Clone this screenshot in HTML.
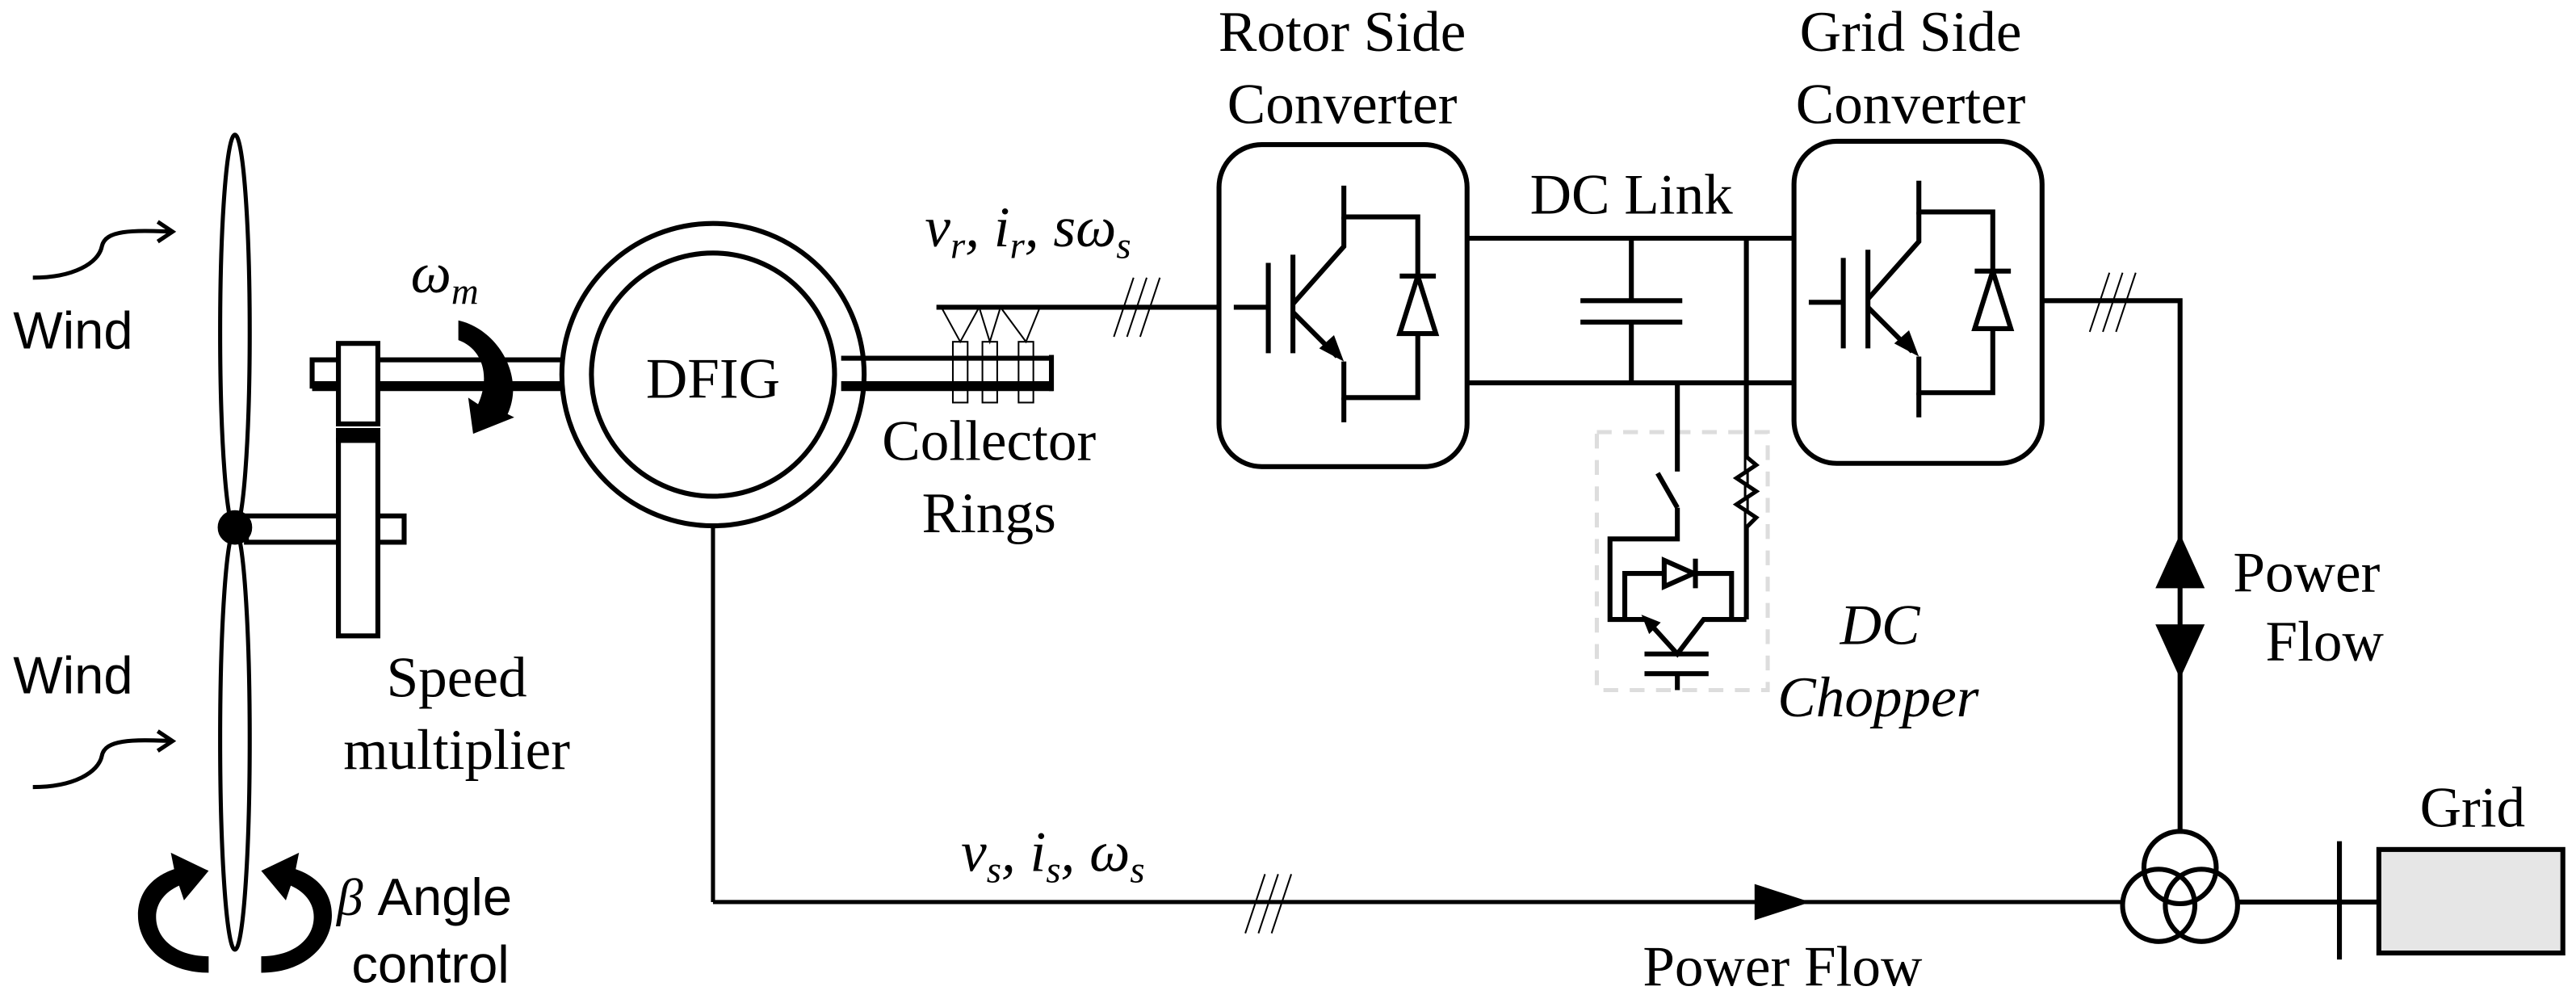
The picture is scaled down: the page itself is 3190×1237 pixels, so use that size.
<!DOCTYPE html>
<html><head><meta charset="utf-8"><style>
html,body{margin:0;padding:0;background:#fff;}
svg{display:block;}
.s{font-family:"Liberation Serif",serif;font-size:35px;fill:#000;}
.a{font-family:"Liberation Sans",sans-serif;font-size:32px;fill:#000;}
.i{font-family:"Liberation Serif",serif;font-style:italic;font-size:35px;fill:#000;}
</style></head><body>
<svg width="3190" height="1237" viewBox="0 0 1568 608" preserveAspectRatio="none" xmlns="http://www.w3.org/2000/svg">
<g fill="none" stroke="#000" stroke-width="3">
<ellipse cx="143" cy="202" rx="9" ry="120" stroke-width="2.5"/>
<ellipse cx="143" cy="450" rx="9" ry="128" stroke-width="2.5"/>
<rect x="150" y="314" width="96" height="16" fill="#fff"/>
<circle cx="143" cy="321" r="9" fill="#000"/>
<rect x="206" y="268" width="24" height="119" fill="#fff"/>
<rect x="206" y="262" width="24" height="6" fill="#000"/>
<rect x="190" y="219" width="168" height="16" fill="#fff"/>
<line x1="190" y1="235" x2="358" y2="235" stroke-width="6"/>
<rect x="206" y="209" width="24" height="49" fill="#fff"/>
<circle cx="434" cy="228" r="92" fill="#fff"/>
<circle cx="434" cy="228" r="74"/>
<line x1="512" y1="218" x2="641" y2="218"/>
<line x1="512" y1="235" x2="641" y2="235" stroke-width="6"/>
<line x1="640" y1="216" x2="640" y2="238"/>
<g stroke-width="1"><rect x="580" y="208" width="9" height="37"/><rect x="598" y="208" width="9" height="37"/><rect x="620" y="208" width="9" height="37"/>
<polyline points="573,187 584.5,208 596,187 602.5,208 609,187 624.5,208 633,187"/>
<line x1="678" y1="205" x2="690" y2="169"/><line x1="686" y1="205" x2="698" y2="169"/><line x1="694" y1="205" x2="706" y2="169"/>
</g>
<line x1="570" y1="187" x2="742" y2="187"/>
<line x1="434" y1="320" x2="434" y2="549" stroke-width="2.5"/>
<line x1="434" y1="549" x2="1293" y2="549" stroke-width="2.5"/>
<g stroke-width="1"><line x1="758" y1="568" x2="770" y2="532"/><line x1="766" y1="568" x2="778" y2="532"/><line x1="774" y1="568" x2="786" y2="532"/>
<line x1="1272" y1="202" x2="1284" y2="166"/><line x1="1280" y1="202" x2="1292" y2="166"/><line x1="1288" y1="202" x2="1300" y2="166"/></g>
<rect x="742" y="88" width="151" height="196" rx="26"/>
<rect x="1092" y="86" width="151" height="196" rx="26"/>
<line x1="893" y1="145" x2="1092" y2="145"/>
<line x1="893" y1="233" x2="1092" y2="233"/>
<line x1="993" y1="145" x2="993" y2="183"/><line x1="993" y1="196" x2="993" y2="233"/>
<line x1="962" y1="183" x2="1024" y2="183"/><line x1="962" y1="196" x2="1024" y2="196"/>
<line x1="1063" y1="145" x2="1063" y2="377"/>
<rect x="972" y="263" width="104" height="157" stroke="#ddd" stroke-width="2.5" stroke-dasharray="9,7"/>
<line x1="1021" y1="233" x2="1021" y2="287"/>
<line x1="1009" y1="288" x2="1021" y2="309"/>
<polyline points="1021,309 1021,328 980,328 980,377 1002,377"/>
<polyline points="989,377 989,349 1054,349 1054,377"/>
<polyline points="1063,377 1037,377 1021,398 1002,377"/>
<line x1="1001" y1="398" x2="1040" y2="398"/><line x1="1001" y1="410" x2="1040" y2="410"/><line x1="1021" y1="410" x2="1021" y2="420"/>
<polygon points="1013,341 1013,357 1031,349" fill="#fff"/><line x1="1032" y1="340" x2="1032" y2="358"/>
<polygon points="1000,375 1010,379 1004,385" fill="#000" stroke-width="1"/>
<polyline points="1063,278 1069,283 1057,291 1069,299 1057,307 1069,315 1063,321" fill="#fff" stroke-width="2.5"/>
<polyline points="1243,183 1327,183 1327,507"/>
<line x1="1362" y1="549" x2="1448" y2="549"/>
<line x1="1424" y1="512" x2="1424" y2="584"/>
<rect x="1448" y="517" width="112" height="63" fill="#e6e6e6"/>
<circle cx="1327" cy="528" r="22"/><circle cx="1314" cy="551" r="22"/><circle cx="1340" cy="551" r="22"/>
</g>
<g fill="none" stroke="#000" stroke-width="3">
<g id="ig">
<line x1="751" y1="187" x2="772" y2="187"/>
<line x1="772" y1="160" x2="772" y2="215"/>
<line x1="787" y1="155" x2="787" y2="215"/>
<polyline points="818,113 818,132 863,132 863,168"/>
<polyline points="787,185 818,150 818,132"/>
<line x1="787" y1="190" x2="814" y2="217"/>
<polyline points="818,220 818,242 863,242 863,203"/>
<line x1="818" y1="242" x2="818" y2="257"/>
<polygon points="852,203 874,203 863,168" fill="#fff"/>
<line x1="852" y1="168" x2="874" y2="168"/>
</g>
<use href="#ig" transform="translate(350,-3)"/>
</g>
<polygon points="818,220 803,212 812,204" fill="#000"/>
<polygon points="1168,217 1153,209 1162,201" fill="#000"/>
<polygon points="1068,538 1068,560 1102,549" fill="#000"/>
<polygon points="1327,325 1312,358 1342,358" fill="#000"/>
<polygon points="1312,380 1342,380 1327,413" fill="#000"/>
<g fill="none" stroke="#000" stroke-width="2.5">
<path d="M20,169 C45,169 60,160 62,150 C64,140 80,140 105,141"/><polyline points="96,135 105,141 96,147"/>
<path d="M20,479 C45,479 60,470 62,460 C64,450 80,450 105,451"/><polyline points="96,445 105,451 96,457"/>
</g>
<path d="M279,195 C302,200 320,228 309,252 L313,254 L288,264 L285,242 L291,246 C299,228 293,212 279,207 Z" fill="#000"/>
<path d="M127,592 C100,592 84,575 84,557 C84,542 94,533 106,529 L104,519 L127,530 L112,548 L109,539 C100,543 95,550 95,558 C95,572 108,582 127,582 Z" fill="#000"/>
<path d="M159,592 C186,592 202,575 202,557 C202,542 192,533 180,529 L182,519 L159,530 L174,548 L177,539 C186,543 191,550 191,558 C191,572 178,582 159,582 Z" fill="#000"/>
<text class="a" x="8" y="212">Wind</text>
<text class="a" x="8" y="422">Wind</text>
<text class="i" x="250" y="178">ω<tspan font-size="23" dy="7">m</tspan></text>
<text class="s" x="434" y="242" text-anchor="middle" font-size="38">DFIG</text>
<text class="i" x="563" y="150">v<tspan font-size="23" dy="7">r</tspan><tspan dy="-7">, i</tspan><tspan font-size="23" dy="7">r</tspan><tspan dy="-7">, sω</tspan><tspan font-size="23" dy="7">s</tspan></text>
<text class="s" x="602" y="280" text-anchor="middle">Collector</text>
<text class="s" x="602" y="324" text-anchor="middle">Rings</text>
<text class="s" x="817" y="31" text-anchor="middle">Rotor Side</text>
<text class="s" x="817" y="75" text-anchor="middle">Converter</text>
<text class="s" x="1163" y="31" text-anchor="middle">Grid Side</text>
<text class="s" x="1163" y="75" text-anchor="middle">Converter</text>
<text class="s" x="993" y="130" text-anchor="middle">DC Link</text>
<text class="i" x="1120" y="392">DC</text>
<text class="i" x="1082" y="436">Chopper</text>
<text class="s" x="1404" y="360" text-anchor="middle">Power</text>
<text class="s" x="1415" y="402" text-anchor="middle">Flow</text>
<text class="s" x="1505" y="503" text-anchor="middle">Grid</text>
<text class="s" x="1085" y="600" text-anchor="middle">Power Flow</text>
<text class="i" x="585" y="530">v<tspan font-size="23" dy="7">s</tspan><tspan dy="-7">, i</tspan><tspan font-size="23" dy="7">s</tspan><tspan dy="-7">, ω</tspan><tspan font-size="23" dy="7">s</tspan></text>
<text class="s" x="278" y="424" text-anchor="middle">Speed</text>
<text class="s" x="278" y="468" text-anchor="middle">multiplier</text>
<text class="a" x="205" y="557"><tspan font-family="Liberation Serif" font-style="italic">β</tspan> Angle</text>
<text class="a" x="214" y="598">control</text>
</svg>
</body></html>
